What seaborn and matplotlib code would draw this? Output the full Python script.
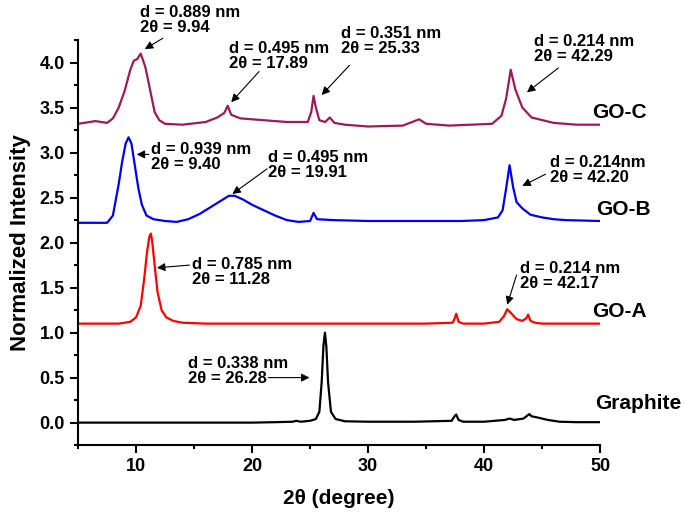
import numpy as np
import pandas as pd
import matplotlib
matplotlib.use("Agg")
import matplotlib.pyplot as plt
import seaborn as sns
from matplotlib.ticker import MultipleLocator

sns.set_theme(style="ticks")
plt.rcParams["font.family"] = ["Liberation Sans", "DejaVu Sans"]
plt.rcParams["font.weight"] = "bold"
plt.rcParams["text.color"] = "black"
plt.rcParams["axes.labelcolor"] = "black"

# XRD patterns (2theta in degree, normalized intensity)
graphite_x = [5, 8, 12, 16, 20, 22, 23.5, 23.8, 24.2, 25, 25.5, 25.8, 26.0, 26.15, 26.28,
              26.4, 26.55, 26.8, 27.2, 28, 30, 34, 37.2, 37.45, 37.6, 37.8, 38.2, 40, 41.8,
              42.2, 42.6, 43.4, 43.75, 43.9, 44.1, 44.5, 45, 45.5, 46.5, 48, 50]
graphite_y = [0.0, 0.0, 0.0, 0.0, 0.0, 0.005, 0.01, 0.02, 0.01, 0.02, 0.04, 0.12, 0.45, 0.85, 1.0,
              0.85, 0.45, 0.12, 0.04, 0.015, 0.01, 0.01, 0.02, 0.07, 0.09, 0.03, 0.01, 0.01, 0.03,
              0.045, 0.03, 0.045, 0.08, 0.095, 0.07, 0.06, 0.045, 0.03, 0.01, 0.005, 0.005]

goa_x = [5, 7, 8.5, 9.5, 10.0, 10.4, 10.7, 10.95, 11.15, 11.28, 11.4, 11.6, 11.85, 12.2, 12.6,
         13.2, 14, 16, 20, 25, 30, 35, 37.3, 37.5, 37.6, 37.8, 38.2, 40, 41.3, 41.7, 42.0,
         42.3, 42.8, 43.3, 43.65, 43.8, 44.0, 44.4, 45, 47, 50]
goa_y = [1.1, 1.1, 1.1, 1.12, 1.17, 1.3, 1.6, 1.9, 2.07, 2.1, 2.0, 1.75, 1.45, 1.25, 1.17,
         1.13, 1.11, 1.1, 1.1, 1.1, 1.1, 1.1, 1.11, 1.17, 1.21, 1.12, 1.1, 1.1, 1.12, 1.18, 1.26,
         1.22, 1.15, 1.13, 1.16, 1.2, 1.13, 1.11, 1.1, 1.1, 1.1]

gob_x = [5, 6.5, 7.5, 8.0, 8.5, 8.8, 9.1, 9.35, 9.6, 9.9, 10.2, 10.5, 10.9, 11.5, 12.5, 13.5,
         14.5, 15.5, 16.5, 17.5, 18.0, 18.5, 19.2, 20, 21, 22, 23, 24, 25, 25.3, 25.6, 27,
         30, 35, 38, 40, 41.2, 41.6, 41.9, 42.2, 42.5, 42.8, 43.3, 44, 45, 46, 47, 50]
gob_y = [2.22, 2.22, 2.22, 2.3, 2.65, 2.9, 3.1, 3.17, 3.1, 2.85, 2.6, 2.42, 2.3, 2.26, 2.24, 2.23,
         2.26, 2.32, 2.4, 2.48, 2.52, 2.52, 2.48, 2.42, 2.36, 2.3, 2.25, 2.23, 2.24, 2.33, 2.26, 2.25,
         2.24, 2.24, 2.24, 2.25, 2.28, 2.36, 2.6, 2.86, 2.62, 2.45, 2.38, 2.31, 2.28, 2.26, 2.25, 2.24]

goc_x = [5, 6, 6.5, 7, 7.5, 8, 8.5, 9, 9.5, 9.8, 10.1, 10.4, 10.8, 11.2, 11.6, 12, 12.5, 14,
         16, 17, 17.6, 17.9, 18.2, 19, 21, 23, 24.8, 25.1, 25.3, 25.5, 25.8, 26.3, 26.7, 27.1,
         28, 30, 33, 34.4, 35, 37, 40.7, 41.5, 41.9, 42.3, 42.7, 43.3, 44.1, 46, 48, 50]
goc_y = [3.32, 3.34, 3.35, 3.34, 3.33, 3.38, 3.5, 3.68, 3.92, 4.02, 4.04, 4.1, 3.95, 3.7, 3.45,
         3.36, 3.32, 3.31, 3.34, 3.39, 3.44, 3.52, 3.42, 3.38, 3.36, 3.34, 3.34, 3.45, 3.63, 3.5,
         3.36, 3.34, 3.39, 3.33, 3.31, 3.29, 3.3, 3.37, 3.32, 3.3, 3.32, 3.41, 3.6, 3.92, 3.7,
         3.5, 3.39, 3.33, 3.31, 3.31]

samples = ["Graphite", "GO-A", "GO-B", "GO-C"]
colors = ["black", "#ff0000", "#0000ee", "#9c1a5c"]
curves = [(graphite_x, graphite_y), (goa_x, goa_y), (gob_x, gob_y), (goc_x, goc_y)]

# sample name, position
sample_labels = [("Graphite", 49.6, 0.21), ("GO-A", 49.3, 1.24),
                 ("GO-B", 49.7, 2.37), ("GO-C", 49.3, 3.44)]

# text, text position, arrow tail, arrow head
notes = [
    ("d = 0.889 nm\n2\u03b8 = 9.94", (10.3, 4.47), (12.3, 4.27), (10.75, 4.15)),
    ("d = 0.495 nm\n2\u03b8 = 17.89", (18.0, 4.07), (20.6, 3.9), (18.2, 3.56)),
    ("d = 0.351 nm\n2\u03b8 = 25.33", (27.7, 4.24), (28.4, 3.97), (26.0, 3.64)),
    ("d = 0.214 nm\n2\u03b8 = 42.29", (44.3, 4.15), (46.4, 3.94), (43.7, 3.67)),
    ("d = 0.939 nm\n2\u03b8 = 9.40", (11.3, 2.95), (11.1, 2.98), (10.05, 2.98)),
    ("d = 0.495 nm\n2\u03b8 = 19.91", (21.4, 2.86), (21.3, 2.82), (18.3, 2.54)),
    ("d = 0.214nm\n2\u03b8 = 42.20", (45.7, 2.81), (45.3, 2.76), (43.3, 2.63)),
    ("d = 0.785 nm\n2\u03b8 = 11.28", (14.8, 1.67), (14.6, 1.75), (11.8, 1.72)),
    ("d = 0.214 nm\n2\u03b8 = 42.17", (43.1, 1.63), (42.8, 1.64), (42.0, 1.31)),
    ("d = 0.338 nm\n2\u03b8 = 26.28", (14.45, 0.575), (21.4, 0.5), (24.95, 0.5)),
]

fig = plt.figure(figsize=(6.85, 5.14), dpi=100)
ax = fig.add_axes([0.114, 0.134, 0.762, 0.788])

for (x, y), name, c in zip(curves, samples, colors):
    df = pd.DataFrame({"x": x, "y": y})
    sns.lineplot(data=df, x="x", y="y", color=c, linewidth=1.6, ax=ax, estimator=None)

for name, tx, ty in sample_labels:
    ax.text(tx, ty, name, fontsize=15, fontweight="bold", va="center", ha="left")

for txt, (tx, ty), tail, head in notes:
    ax.text(tx, ty, txt, fontsize=12, fontweight="bold", va="center", ha="left", linespacing=1.0)
    ax.annotate("", xy=head, xytext=tail,
                arrowprops=dict(arrowstyle="-|>", color="black", lw=0.8,
                                mutation_scale=12, shrinkA=0, shrinkB=0))

ax.set_xlim(5, 50)
ax.set_ylim(-0.25, 4.25)
ax.xaxis.set_major_locator(MultipleLocator(10))
ax.xaxis.set_minor_locator(MultipleLocator(5))
ax.yaxis.set_major_locator(MultipleLocator(0.5))
ax.yaxis.set_minor_locator(MultipleLocator(0.25))
ax.yaxis.set_major_formatter(matplotlib.ticker.FormatStrFormatter("%.1f"))

ax.set_xlabel("2\u03b8 (degree)", fontsize=15, fontweight="bold", labelpad=10)
ax.set_ylabel("Normalized Intensity", fontsize=16, fontweight="bold", labelpad=6)
ax.tick_params(which="major", direction="out", length=6, width=1.5, labelsize=13,
               colors="black", labelcolor="black")
ax.tick_params(which="minor", direction="out", length=3, width=1.5, colors="black")
for lbl in ax.get_xticklabels() + ax.get_yticklabels():
    lbl.set_fontweight("bold")

sns.despine(ax=ax)
ax.spines["left"].set_linewidth(1.5)
ax.spines["bottom"].set_linewidth(1.5)
ax.spines["left"].set_color("black")
ax.spines["bottom"].set_color("black")

fig.savefig("out.png", dpi=100)
